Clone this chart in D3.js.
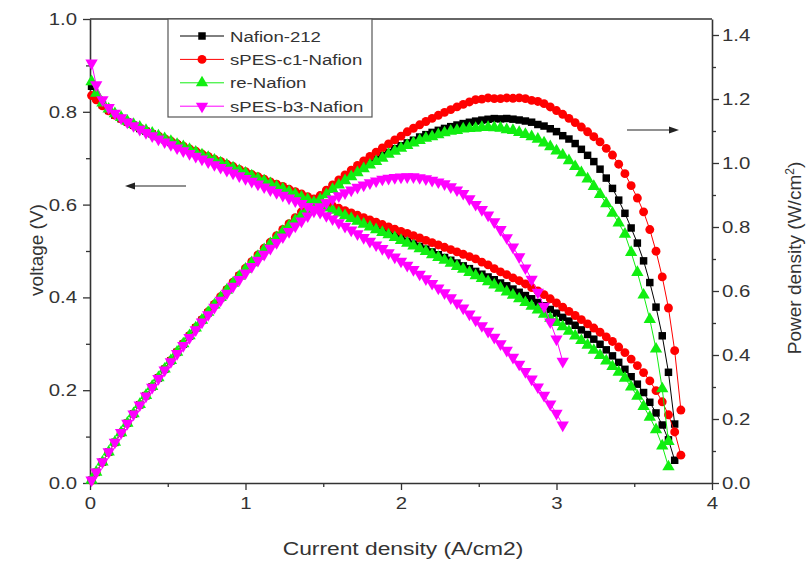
<!DOCTYPE html>
<html>
<head>
<meta charset="utf-8">
<script src="https://cdn.jsdelivr.net/npm/d3@7"></script>
<style>
  body { margin: 0; background: #fff; }
  text { font-family: "Liberation Sans", Arial, sans-serif; fill: #333; }
</style>
</head>
<body>
<svg id="chart" width="811" height="564"></svg>
<script>
'use strict';

// current density steps (A/cm2), shared by every sample
const currentDensity = [0.01,0.04,0.08,0.12,0.16,0.20,0.24,0.28,0.32,0.36,0.40,0.44,0.48,0.52,0.56,0.60,
  0.64,0.68,0.72,0.76,0.80,0.84,0.88,0.92,0.96,1.00,1.04,1.08,1.12,1.16,1.20,1.24,1.28,1.32,1.36,1.40,
  1.44,1.48,1.52,1.56,1.60,1.64,1.68,1.72,1.76,1.80,1.84,1.88,1.92,1.96,2.00,2.04,2.08,2.12,2.16,2.20,
  2.24,2.28,2.32,2.36,2.40,2.44,2.48,2.52,2.56,2.60,2.64,2.68,2.72,2.76,2.80,2.84,2.88,2.92,2.96,3.00,
  3.04,3.08,3.12,3.16,3.20,3.24,3.28,3.32,3.36,3.40,3.44,3.48,3.52,3.56,3.60,3.64,3.68,3.72,3.76,3.80];

// cell voltage (V)
const voltageNafion212 = [.855,.832,.815,.803,.793,.785,.778,.771,.764,.758,.752,.746,.740,.734,.729,.723,
  .717,.712,.706,.700,.695,.689,.684,.678,.673,.667,.662,.656,.651,.645,.640,.634,.629,.623,.618,.612,
  .607,.601,.596,.590,.584,.578,.572,.566,.561,.555,.549,.544,.538,.533,.527,.521,.515,.510,.504,.498,
  .492,.486,.480,.474,.468,.462,.456,.450,.444,.438,.431,.425,.418,.411,.404,.397,.389,.382,.374,.366,
  .357,.349,.340,.330,.320,.310,.299,.287,.274,.260,.245,.229,.213,.195,.174,.151,.125,.093,.049];

const voltageSpesC1 = [.835,.826,.813,.802,.793,.785,.778,.771,.765,.759,.753,.748,.742,.737,.731,.726,
  .720,.715,.709,.704,.698,.693,.687,.682,.676,.671,.665,.660,.655,.649,.644,.639,.633,.628,.623,.617,
  .612,.607,.602,.597,.592,.587,.582,.577,.572,.567,.562,.557,.552,.547,.542,.538,.533,.528,.523,.518,
  .513,.508,.503,.498,.493,.488,.483,.476,.470,.462,.455,.449,.442,.436,.429,.421,.414,.406,.397,.388,
  .379,.370,.361,.352,.343,.334,.325,.315,.305,.293,.281,.267,.253,.238,.220,.199,.175,.147,.110,.060];

const voltageReNafion = [.865,.840,.819,.806,.796,.788,.780,.773,.767,.760,.754,.748,.742,.736,.730,.725,
  .719,.713,.707,.702,.696,.690,.685,.679,.673,.668,.662,.656,.651,.645,.639,.634,.628,.622,.616,.611,
  .605,.599,.593,.588,.582,.576,.570,.564,.558,.552,.546,.540,.535,.529,.523,.517,.511,.505,.499,.492,
  .486,.480,.474,.467,.461,.454,.447,.441,.434,.427,.420,.412,.405,.397,.389,.381,.373,.364,.355,.346,
  .337,.327,.317,.307,.297,.286,.275,.263,.251,.239,.226,.207,.187,.165,.142,.115,.080,.035];

const voltageSpesB3 = [.905,.858,.826,.809,.797,.787,.778,.770,.762,.755,.748,.741,.735,.729,.722,.716,
  .710,.704,.698,.692,.686,.680,.674,.668,.662,.656,.650,.644,.638,.632,.626,.620,.614,.608,.602,.596,
  .590,.583,.576,.569,.561,.553,.545,.537,.529,.521,.513,.505,.496,.487,.478,.469,.460,.450,.440,.430,
  .420,.410,.399,.388,.377,.364,.351,.339,.327,.314,.300,.286,.271,.256,.240,.224,.207,.189,.170,.150,
  .125];

const seriesNames = ['Nafion-212', 'sPES-c1-Nafion', 're-Nafion', 'sPES-b3-Nafion'];

const currentTicks = [0, 1, 2, 3, 4];
const currentMinor = [0.5, 1.5, 2.5, 3.5];
const voltageTicks = [0, 0.2, 0.4, 0.6, 0.8, 1.0];
const voltageMinor = [0.1, 0.3, 0.5, 0.7, 0.9];
const powerTicks = [0, 0.2, 0.4, 0.6, 0.8, 1.0, 1.2, 1.4];
const powerMinor = [0.1, 0.3, 0.5, 0.7, 0.9, 1.1, 1.3];

const colors = {
  'Nafion-212': '#000000',
  'sPES-c1-Nafion': '#ff0000',
  're-Nafion': '#11ee11',
  'sPES-b3-Nafion': '#ff00ff'
};

const margin = {top: 19, right: 99, bottom: 81, left: 90};
const width = 811, height = 564;
const stretch = 1.2;   // text in the picture is a bit wide

const svg = d3.select('#chart');

const x = d3.scaleLinear().domain([0, 4]).range([margin.left, width - margin.right]);
const yV = d3.scaleLinear().domain([0, 1]).range([height - margin.bottom, margin.top]);
const yP = d3.scaleLinear().domain([0, 1.45]).range([height - margin.bottom, margin.top]);

function buildSeries(name, volts, symbol, rot) {
  const pts = volts.map((v, i) => ({i: currentDensity[i], v: v, p: currentDensity[i] * v}));
  return {name: name, pts: pts, symbol: symbol, rot: rot};
}
// power density = current density x voltage
const series = [
  buildSeries(seriesNames[0], voltageNafion212, d3.symbolSquare, 0),
  buildSeries(seriesNames[1], voltageSpesC1, d3.symbolCircle, 0),
  buildSeries(seriesNames[2], voltageReNafion, d3.symbolTriangle, 0),
  buildSeries(seriesNames[3], voltageSpesB3, d3.symbolTriangle, 180)
];

function symSize(s) {
  if (s.symbol === d3.symbolTriangle) return 66;
  if (s.symbol === d3.symbolCircle) return 62;
  return 56;
}

// stretch horizontal tick labels
function widen(sel, dx) {
  sel.selectAll('text')
    .attr('x', dx / stretch)
    .attr('transform', `scale(${stretch},1)`);
}

// axes
const axisColor = '#333';
const fs = '17px';

const gx = svg.append('g').attr('transform', `translate(0,${height - margin.bottom})`)
  .call(d3.axisBottom(x).tickValues(currentTicks).tickFormat(d3.format('d')).tickSize(7).tickPadding(7).tickSizeOuter(0));
gx.selectAll('text').attr('transform', `scale(${stretch},1)`);
svg.append('g').attr('transform', `translate(0,${height - margin.bottom})`)
  .call(d3.axisBottom(x).tickValues(currentMinor).tickFormat('').tickSize(4).tickSizeOuter(0))
  .select('.domain').remove();

const gl = svg.append('g').attr('transform', `translate(${margin.left},0)`)
  .call(d3.axisLeft(yV).tickValues(voltageTicks).tickFormat(d3.format('.1f')).tickSize(7).tickPadding(6).tickSizeOuter(0));
widen(gl, -13);
svg.append('g').attr('transform', `translate(${margin.left},0)`)
  .call(d3.axisLeft(yV).tickValues(voltageMinor).tickFormat('').tickSize(4).tickSizeOuter(0))
  .select('.domain').remove();

const gr = svg.append('g').attr('transform', `translate(${width - margin.right},0)`)
  .call(d3.axisRight(yP).tickValues(powerTicks).tickFormat(d3.format('.1f')).tickSize(7).tickPadding(3).tickSizeOuter(0));
widen(gr, 10);
svg.append('g').attr('transform', `translate(${width - margin.right},0)`)
  .call(d3.axisRight(yP).tickValues(powerMinor).tickFormat('').tickSize(4).tickSizeOuter(0))
  .select('.domain').remove();

svg.selectAll('.domain').attr('stroke', axisColor).attr('stroke-width', 1.6);
svg.selectAll('.tick line').attr('stroke', axisColor).attr('stroke-width', 1.3);
svg.selectAll('.tick text').attr('font-size', fs).attr('fill', '#333')
  .style('font-family', '"Liberation Sans", Arial, sans-serif');

// top frame
svg.append('line')
  .attr('x1', x(0)).attr('x2', x(4)).attr('y1', yV(1)).attr('y2', yV(1))
  .attr('stroke', axisColor).attr('stroke-width', 1.6);

// titles
svg.append('text')
  .attr('x', 403 / stretch).attr('y', 555)
  .attr('transform', `scale(${stretch},1)`)
  .attr('text-anchor', 'middle').attr('font-size', '19px')
  .text('Current density (A/cm2)');

svg.append('text')
  .attr('transform', 'translate(43,250) rotate(-90)')
  .attr('text-anchor', 'middle').attr('font-size', '19px')
  .text('voltage (V)');

const pt = svg.append('text')
  .attr('transform', 'translate(801,258) rotate(-90)')
  .attr('text-anchor', 'middle').attr('font-size', '19px');
pt.append('tspan').text('Power density (W/cm');
pt.append('tspan').attr('baseline-shift', 'super').attr('font-size', '12px').text('2');
pt.append('tspan').text(')');

// curves
const lineV = d3.line().x(d => x(d.i)).y(d => yV(d.v));
const lineP = d3.line().x(d => x(d.i)).y(d => yP(d.p));

series.forEach(s => {
  const c = colors[s.name];
  const g = svg.append('g');
  const sym = d3.symbol().type(s.symbol).size(symSize(s));
  [[lineV, d => yV(d.v)], [lineP, d => yP(d.p)]].forEach(([ln, yf]) => {
    g.append('path').datum(s.pts)
      .attr('d', ln).attr('fill', 'none').attr('stroke', c).attr('stroke-width', 1);
    g.selectAll(null).data(s.pts).enter().append('path')
      .attr('d', sym)
      .attr('transform', d => `translate(${x(d.i)},${yf(d)}) rotate(${s.rot})`)
      .attr('fill', c);
  });
});

// arrows telling which axis each family belongs to
function arrow(x1, x2, yy) {
  const dir = Math.sign(x2 - x1);
  svg.append('line').attr('x1', x1).attr('x2', x2 - dir * 6).attr('y1', yy).attr('y2', yy)
    .attr('stroke', '#222').attr('stroke-width', 1.2);
  svg.append('path')
    .attr('d', `M${x2},${yy} L${x2 - dir * 10},${yy - 3.5} L${x2 - dir * 10},${yy + 3.5} Z`)
    .attr('fill', '#222');
}
arrow(186, 125, 186);
arrow(627, 679, 130);

// legend
const lg = svg.append('g');
lg.append('rect')
  .attr('x', 168).attr('y', margin.top).attr('width', 204).attr('height', 98)
  .attr('fill', '#fff').attr('stroke', '#555').attr('stroke-width', 1.2);
series.forEach((s, k) => {
  const yy = 36 + k * 23.4;
  const c = colors[s.name];
  lg.append('line').attr('x1', 180).attr('x2', 224).attr('y1', yy).attr('y2', yy)
    .attr('stroke', c).attr('stroke-width', 1);
  lg.append('path')
    .attr('d', d3.symbol().type(s.symbol).size(symSize(s)))
    .attr('transform', `translate(202,${yy}) rotate(${s.rot})`)
    .attr('fill', c);
  lg.append('text')
    .attr('x', 230 / stretch).attr('y', yy)
    .attr('transform', `scale(${stretch},1)`)
    .attr('dy', '0.36em').attr('font-size', '15.5px')
    .text(s.name);
});
</script>
</body>
</html>
